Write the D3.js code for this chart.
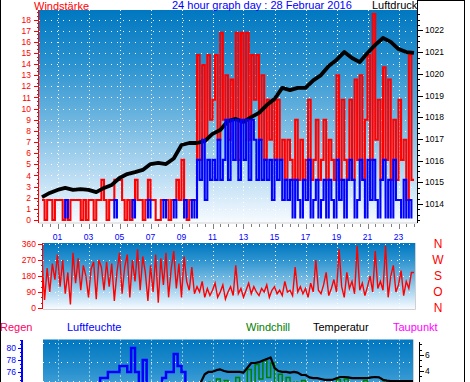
<!DOCTYPE html>
<html>
<head>
<meta charset="utf-8">
<script src="https://cdn.jsdelivr.net/npm/d3@7"></script>
<style>
  html, body { margin: 0; padding: 0; background: #fff; overflow: hidden; }
  svg { display: block; font-family: "Liberation Sans", Arial, sans-serif; }
</style>
</head>
<body>
<svg id="chart" width="470" height="382"></svg>
<script>
// ---- data (28 Feb 2016) ----
const hourLabels = ['01','03','05','07','09','11','13','15','17','19','21','23'];
const windTicks = [0,1,2,3,4,5,6,7,8,9,10,11,12,13,14,15,16,17,18];
const pressTicks = [1014,1015,1016,1017,1018,1019,1020,1021,1022];
const dirTicks = [0,90,180,270,360];
const dirNames = ['N','O','S','W','N'];
const humTicks = [76,78,80];
const tempTicks = [4,6];

// wind gusts, 10 minute samples
const gust = [
  1.8,0,1.8,1.8,0,1.8,  1.8,1.8,0,1.8,0,1.8,  1.8,1.8,1.8,0,1.8,0,  1.8,1.8,0,1.8,1.8,3.6,
  1.8,0,1.8,1.8,3.6,3.6,  3.6,1.8,0,1.8,0,1.8,  3.6,1.8,1.8,0,1.8,3.6,  1.8,1.8,0,0,1.8,1.8,
  1.8,0,1.8,1.8,3.6,1.8,  5.4,1.8,0,1.8,1.8,1.8,  14.8,5.4,13.9,7.2,14.8,9,  10.8,14.8,7.2,16.8,9,13,
  7.2,12.6,9,16.8,5.4,16.8,  9,16.8,7.2,14.8,10.8,14.8,  7.2,13,5.4,10.8,7.2,10.8,  5.4,10.8,5.4,7.2,3.6,7.2,
  5.4,3.6,9,3.6,7.2,3.6,  5.4,10.8,3.6,5.4,9,3.6,  5.4,9,3.6,7.2,5.4,3.6,  13,3.6,10.8,5.4,3.6,10.8,
  3.6,12.6,5.4,13,3.6,9,  14.8,5.4,18.5,7.2,10.8,3.6,  13.7,5.4,12.6,3.6,9,3.6,  10.8,5.4,7.2,1.8,14.8,3.6
];
// mean wind, 10 minute samples
const wind = [
  0,0,0,0,0,0,  0,0,0,1.8,0,0,  0,0,0,0,0,0,  0,0,0,0,0,0,
  0,0,0,0,1.8,0,  0,0,0,0,0,1.8,  0,0,0,0,0,1.8,  0,0,0,0,0,1.8,
  0,0,0,1.8,0,0,  0,1.8,0,0,1.8,0,  5.4,3.6,7.2,1.8,5.4,3.6,  5.4,3.6,7.2,3.6,5.4,9,
  3.6,9,5.4,9,3.6,9,  5.4,9,3.6,9,7.2,3.6,  7.2,3.6,5.4,3.6,5.4,1.8,  5.4,3.6,5.4,1.8,3.6,1.8,
  3.6,0,3.6,1.8,0,3.6,  1.8,5.4,0,1.8,3.6,0,  1.8,3.6,0,3.6,1.8,0,  5.4,1.8,3.6,0,3.6,5.4,
  3.6,0,1.8,5.4,3.6,0,  5.4,1.8,5.4,1.8,0,3.6,  5.4,0,3.6,0,5.4,1.8,  1.8,0,3.6,0,1.8,0
];
// air pressure, half hourly
const pressure = [
  1014.32,1014.51,1014.65,1014.74,1014.65,1014.69,1014.65,1014.55,1014.74,1014.88,
  1015.2,1015.38,1015.47,1015.57,1015.84,1015.89,1015.84,1016.1,1016.72,1016.81,
  1016.81,1016.9,1017.23,1017.41,1017.82,1017.92,1017.78,1018.0,1018.2,1018.56,
  1018.84,1019.35,1019.25,1019.35,1019.35,1019.7,1019.94,1020.36,1020.64,1021.0,
  1020.73,1020.54,1020.96,1021.33,1021.65,1021.47,1021.14,1021.0,1020.96
];
// wind direction, 10 minute samples
const direction = [
  270,45,225,90,250,160,  300,120,270,80,200,20,  310,140,280,100,240,180,  60,220,260,50,270,230,
  100,260,120,250,40,200,  310,80,230,300,60,270,  150,330,100,290,200,40,  240,90,300,30,280,130,
  310,60,220,320,110,250,  60,290,150,100,230,80,  120,90,150,60,110,70,  100,140,60,90,130,50,
  90,120,70,240,80,110,  60,100,140,80,120,90,  70,110,90,130,60,100,  120,80,100,70,150,90,
  100,70,230,90,120,80,  110,60,140,90,270,100,  80,130,200,70,110,160,  90,330,120,60,200,110,
  150,80,350,100,140,70,  120,180,90,320,110,150,  100,350,60,180,240,90,  130,210,70,150,110,200
];
// humidity, temperature, wind chill: 15 minute samples
const humidity = [
  72,72,71,71,72,72,73,72,72,71,72,73,73,73,
  73,75,75,76,76,76,77,77,76,80,76,72,78,72,72,73,73,75,76,76,79,77,76,
  73,72,71,71,70,69,69,68,67,67,66,66,
  65,65,64,64,63,62,62,61,61,62,63,63,
  64,64,65,65,66,66,67,67,67,68,68,68,
  69,69,69,69,70,70,70,70,70,71,71,71,
  71,71,72,72,72,72,72,73,73,73,73,73
];
const temperature = [
  1.2,1.1,1.0,1.0,0.9,0.9,0.8,0.8,0.7,0.7,0.6,0.6,0.6,0.5,0.5,0.5,0.4,0.4,0.4,0.4,
  0.3,0.3,0.3,0.3,0.3,0.2,0.3,0.4,0.5,0.6,0.7,0.8,0.9,1.0,1.0,1.1,1.1,1.2,1.3,1.4,
  1.5,2.6,3.6,3.9,3.9,4.1,4.2,4.0,3.9,3.9,3.9,3.9,3.8,4.4,5.0,5.0,5.1,5.3,5.5,5.7,
  4.4,4.0,3.9,3.9,3.8,3.9,3.8,3.5,3.5,3.2,3.1,3.1,3.0,2.9,2.9,2.9,3.1,3.25,3.25,3.2,
  3.1,3.1,3.1,3.1,3.1,3.2,3.25,3.2,2.9,2.8,2.75,2.75,2.75,2.75,2.75,2.75,2.75
];
const windchill = [
  0.2,-0.6,0.1,-0.8,0.0,-0.9,-0.2,-1.0,-0.4,-1.1,-0.5,-1.2,-0.6,-1.3,-0.7,-1.2,-0.8,-1.4,-0.9,-1.5,
  -1.0,-1.4,-1.0,-1.6,-1.1,-1.5,-0.9,-1.3,-0.7,-1.1,-0.5,-0.9,-0.3,-0.7,-0.1,-0.5,0.0,-0.3,0.2,-0.1,
  0.4,0.1,
  1.0,2.6,1.5,3.0,1.8,2.8,1.2,2.5,3.2,1.0,2.0,4.2,2.5,4.8,3.0,5.3,3.2,5.0,2.4,3.6,2.0,3.2,1.8,2.6,1.5,2.8,
  1.0,2.2,0.8,1.6,1.0,2.0,0.6,1.8,2.9,1.0,3.0,1.2,2.4,0.8,1.5,2.8,1.0,2.2,0.8,1.6,
  2.6,1.2,1.8,0.8,1.4,1.0,2.4,0.8,1.2
];

// ---- layout ----
const svg = d3.select('#chart');
const P1 = { x0: 39, x1: 417, y0: 10, y1: 222.5 };
const P2 = { x0: 43, x1: 415, y0: 243, y1: 309 };
const P3 = { x0: 43, x1: 413, y0: 339.5, y1: 470 };

const x = d3.scaleLinear().domain([0, 24]).range([42, 414]);
const windY = d3.scaleLinear().domain([0, 18]).range([220, 19.5]);
const pressY = d3.scaleLinear().domain([1014, 1022]).range([204, 30.4]);
const dirY = d3.scaleLinear().domain([0, 360]).range([308, 244]);
const humY = d3.scaleLinear().domain([76, 80]).range([372, 348]);
const tempY = d3.scaleLinear().domain([4, 6]).range([371, 355]);

const defs = svg.append('defs');
const sky = defs.append('linearGradient').attr('id', 'sky')
  .attr('x1', 0).attr('y1', 0).attr('x2', 0).attr('y2', 1);
[[0, '#0077c0'], [0.25, '#2a92cf'], [0.5, '#6ab4df'], [0.72, '#a9d4ef'], [0.9, '#dcedfa'], [1, '#f7fbff']]
  .forEach(s => sky.append('stop').attr('offset', s[0]).attr('stop-color', s[1]));

function panel(id, p) {
  defs.append('clipPath').attr('id', id).append('rect')
    .attr('x', p.x0).attr('y', p.y0).attr('width', p.x1 - p.x0).attr('height', p.y1 - p.y0);
  svg.append('rect').attr('x', p.x0).attr('y', p.y0)
    .attr('width', p.x1 - p.x0).attr('height', p.y1 - p.y0).attr('fill', 'url(#sky)');
  svg.append('path')
    .attr('d', `M${p.x0},${p.y1 + 0.5}H${p.x1 + 0.5}V${p.y0}`)
    .attr('fill', 'none').attr('stroke', '#d0d0d0');
  return svg.append('g').attr('clip-path', `url(#${id})`);
}

function grid(g, p, ys, hDash) {
  const odd = hourLabels.map(Number);
  g.selectAll(null).data(ys).join('line')
    .attr('x1', p.x0).attr('x2', p.x1)
    .attr('y1', d => Math.round(d) + 0.5).attr('y2', d => Math.round(d) + 0.5)
    .attr('stroke', '#fff').attr('stroke-dasharray', hDash || '1,5');
  g.selectAll(null).data(odd).join('line')
    .attr('x1', d => Math.round(x(d)) + 0.5).attr('x2', d => Math.round(x(d)) + 0.5)
    .attr('y1', p.y0).attr('y2', p.y1)
    .attr('stroke', '#fff').attr('stroke-dasharray', '1,3');
}

function ruler(o) {
  const dir = o.side === 'left' ? -1 : 1;
  const g = svg.append('g').attr('stroke', o.color).attr('shape-rendering', 'crispEdges');
  g.append('line').attr('x1', o.x).attr('x2', o.x).attr('y1', o.top).attr('y2', o.bottom)
    .attr('stroke-width', o.width || 1);
  g.selectAll(null).data(o.minors).join('line')
    .attr('x1', o.x).attr('x2', o.x + dir * o.minLen)
    .attr('y1', d => Math.round(o.scale(d)) + 0.5).attr('y2', d => Math.round(o.scale(d)) + 0.5);
  g.selectAll(null).data(o.majors).join('line')
    .attr('x1', o.x).attr('x2', o.x + dir * o.majLen)
    .attr('y1', d => Math.round(o.scale(d)) + 0.5).attr('y2', d => Math.round(o.scale(d)) + 0.5);
  svg.append('g').selectAll(null).data(o.majors).join('text')
    .attr('x', o.labelX).attr('y', d => o.scale(d)).attr('dy', '0.36em')
    .attr('text-anchor', o.side === 'left' ? 'end' : 'start')
    .attr('fill', o.color).attr('font-size', o.fontSize || 8.5)
    .text(o.fmt || (d => d));
}

// ---- panel 1: wind + pressure ----
const g1 = panel('c1', P1);
grid(g1, P1, windTicks.map(windY));

const stepLine = sy => d3.line().curve(d3.curveStepAfter).x(d => x(d[0])).y(d => sy(d[1]));
const tenMin = arr => arr.map((v, i) => [i / 6, v]).concat([[24, arr[arr.length - 1]]]);

g1.append('path').datum(tenMin(gust))
  .attr('d', stepLine(windY)).attr('fill', 'none')
  .attr('stroke', '#ff0000').attr('stroke-width', 2.1);

defs.append('clipPath').attr('id', 'cblue').append('rect')
  .attr('x', P1.x0).attr('y', P1.y0).attr('width', P1.x1 - P1.x0).attr('height', windY(0) - 1.5 - P1.y0);
svg.append('g').attr('clip-path', 'url(#cblue)').append('path').datum(tenMin(wind))
  .attr('d', stepLine(windY)).attr('fill', 'none')
  .attr('stroke', '#0000ff').attr('stroke-width', 2.1);

g1.append('path').datum(pressure.map((v, i) => [i / 2, v]))
  .attr('d', d3.line().x(d => x(d[0])).y(d => pressY(d[1])))
  .attr('fill', 'none').attr('stroke', '#000').attr('stroke-width', 3.8)
  .attr('stroke-linejoin', 'round');

ruler({ x: 38.5, top: P1.y0, bottom: P1.y1, scale: windY, side: 'left', color: '#ff0000',
  majors: windTicks, minors: d3.range(0, 18.7, 1 / 3), majLen: 5, minLen: 2, labelX: 31 });
ruler({ x: 417.5, top: 0, bottom: P1.y1, scale: pressY, side: 'right', color: '#000',
  majors: pressTicks, minors: d3.range(1013.25, 1022.9, 0.25), majLen: 5, minLen: 2.5, labelX: 425 });

// time axis
const tx = svg.append('g').attr('stroke', '#808080').attr('shape-rendering', 'crispEdges');
tx.selectAll(null).data(d3.range(0, 24.01, 0.5)).join('line')
  .attr('x1', d => Math.round(x(d)) + 0.5).attr('x2', d => Math.round(x(d)) + 0.5)
  .attr('y1', P1.y1 + 1).attr('y2', d => (d % 2 === 1 ? P1.y1 + 6 : P1.y1 + 4));
svg.append('g').selectAll(null).data(hourLabels).join('text')
  .attr('x', d => x(+d)).attr('y', 240).attr('text-anchor', 'middle')
  .attr('fill', '#0000ff').attr('font-size', 8.5).text(d => d);

// ---- panel 2: wind direction ----
const g2 = panel('c2', P2);
grid(g2, P2, dirTicks.slice(1).map(dirY));
g2.append('path').datum(tenMin(direction))
  .attr('d', d3.line().x(d => x(d[0])).y(d => dirY(d[1])))
  .attr('fill', 'none').attr('stroke', '#ff0000').attr('stroke-width', 1.4);
ruler({ x: 42.5, top: P2.y0, bottom: P2.y1, scale: dirY, side: 'left', color: '#ff0000',
  majors: dirTicks, minors: d3.range(0, 361, 30), majLen: 5, minLen: 2, labelX: 36 });
svg.append('g').selectAll(null).data(dirTicks).join('text')
  .attr('x', 438).attr('y', d => dirY(d)).attr('dy', '0.36em').attr('text-anchor', 'middle')
  .attr('fill', '#ff0000').attr('font-size', 12).text((d, i) => dirNames[i]);

// ---- panel 3: humidity / temperature ----
const g3 = panel('c3', P3);
grid(g3, P3, d3.range(P3.y0 + 3.5, P3.y1, 19));
const quarter = arr => arr.map((v, i) => [i / 4, v]);
g3.append('path').datum(quarter(humidity))
  .attr('d', stepLine(humY)).attr('fill', 'none')
  .attr('stroke', '#0000ff').attr('stroke-width', 2.5);
g3.append('path').datum(quarter(windchill))
  .attr('d', stepLine(tempY)).attr('fill', 'none')
  .attr('stroke', '#008000').attr('stroke-width', 1.5);
g3.append('path').datum(quarter(temperature))
  .attr('d', d3.line().x(d => x(d[0])).y(d => tempY(d[1])))
  .attr('fill', 'none').attr('stroke', '#000').attr('stroke-width', 2.2)
  .attr('stroke-linejoin', 'round');

ruler({ x: 21.5, top: P3.y0, bottom: 390, scale: humY, side: 'left', color: '#0000ff', width: 2,
  majors: humTicks, minors: d3.range(74, 81.5, 2 / 3), majLen: 4, minLen: 2, labelX: 16 });
ruler({ x: 419.5, top: P3.y0 + 2, bottom: 390, scale: tempY, side: 'right', color: '#000',
  majors: tempTicks, minors: d3.range(2, 7.6, 2 / 3), majLen: 4, minLen: 2, labelX: 425 });

// ---- titles ----
const titles = [
  ['Windstärke', 34, 9.5, '#ff0000'],
  ['24 hour graph day : 28 Februar 2016', 172, 9.3, '#0000ff'],
  ['Luftdruck', 372, 9.3, '#000'],
  ['Regen', 0, 330.5, '#ff0066'],
  ['Luftfeuchte', 67, 330.5, '#0000ff'],
  ['Windchill', 246, 330.5, '#008000'],
  ['Temperatur', 313, 330.5, '#000'],
  ['Taupunkt', 393, 330.5, '#ff00ff']
];
svg.append('g').selectAll(null).data(titles).join('text')
  .attr('x', d => d[1]).attr('y', d => d[2]).attr('fill', d => d[3])
  .attr('font-size', 11).text(d => d[0]);

// frame
svg.append('path').attr('d', 'M0.5,0V382M464.5,0V382M417,0.5H465')
  .attr('stroke', '#000').attr('fill', 'none');
</script>
</body>
</html>
